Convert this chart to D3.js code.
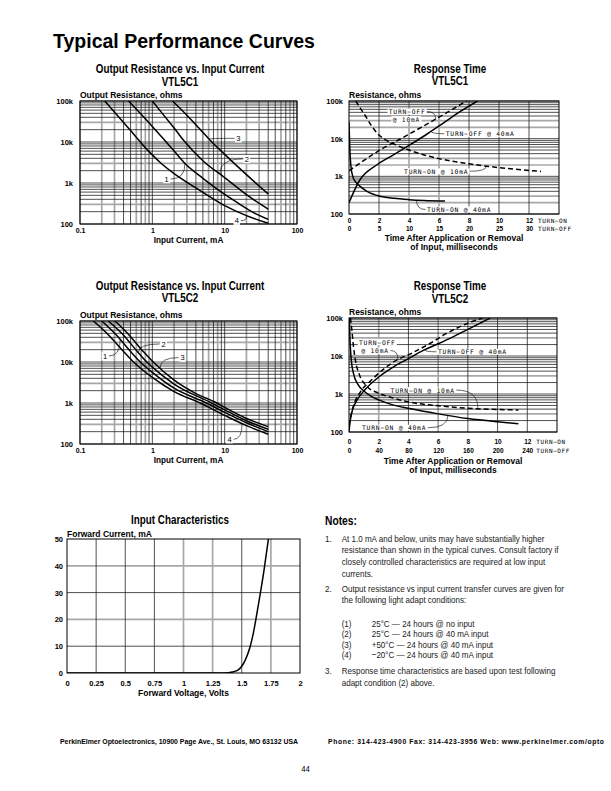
<!DOCTYPE html>
<html>
<head>
<meta charset="utf-8">
<title>Typical Performance Curves</title>
<script src="https://d3js.org/d3.v7.min.js"></script>
<style>
  html, body { margin: 0; padding: 0; background: #fff; }
  svg { display: block; }
</style>
</head>
<body>
<script>
/* ---------- data ---------- */
var pageTitle = 'Typical Performance Curves';

var currentTicks = [0.1, 1, 10, 100];
var currentTickLabels = ['0.1', '1', '10', '100'];
var ohmTicks = [100, 1000, 10000, 100000];
var ohmTickLabels = ['100', '1k', '10k', '100k'];

// VTL5C1 output resistance vs input current  [mA, ohms]
var c1Curve1 = [[0.47,100000],[1,24000],[1.42,12000],[2,6000],[2.83,3000],[5,1300],[7.8,720],[15,330],[25,190],[40,130]];
var c1Curve2 = [[1,100000],[1.5,41000],[2,22000],[2.7,11000],[5,3500],[10,1350],[20,520],[40,230]];
var c1Curve3 = [[1.9,100000],[3,45000],[4.5,21000],[6.3,11000],[10,5000],[20,1600],[40,540]];
var c1Curve4 = [[0.22,100000],[0.5,19000],[0.93,5500],[1.33,3000],[2,1700],[4,760],[10,280],[20,160],[40,104]];

// VTL5C2 output resistance vs input current  [mA, ohms]
var c2Curve1 = [[0.2,100000],[0.32,45000],[0.5,18000],[0.68,10000],[1,5600],[2,2300],[5.6,1000],[10,590],[20,330],[40,200]];
var c2Curve2 = [[0.246,100000],[0.4,45000],[0.62,18000],[0.84,10000],[1,7500],[2,2900],[6.6,1000],[10,680],[20,370],[40,228]];
var c2Curve3 = [[0.305,100000],[0.48,45000],[0.75,18000],[1.03,10000],[2,3600],[4,1700],[7.8,1000],[10,780],[20,420],[40,265]];
var c2Curve4 = [[0.153,100000],[0.25,45000],[0.4,18000],[0.55,10000],[1,4200],[2,1900],[4.6,1000],[10,500],[20,280],[40,173]];

// VTL5C1 response time  turn-on [ms, ohms], turn-off [ms, ohms]
var rt1OnTicks = [0, 2, 4, 6, 8, 10, 12];
var rt1OffTicks = [0, 5, 10, 15, 20, 25, 30];
var rt1TurnOn40 = [[0,28000],[0.05,6000],[0.12,2000],[0.25,1000],[0.45,700],[0.7,560],[1.2,400],[2,300],[3,260],[4,240],[5,228],[6.4,220]];
var rt1TurnOn10 = [[0.45,100000],[0.75,65000],[1.1,40000],[1.5,22000],[2,12500],[2.5,9000],[3,7200],[4,5000],[5,3700],[6,2950],[8,2150],[10,1700],[12.8,1350]];
var rt1TurnOff40 = [[0,200],[1.8,800],[4.6,2000],[7.4,3700],[10,6600],[12.9,12900],[15.7,25700],[18.5,52000],[21.4,100000]];
var rt1TurnOff10 = [[0,1400],[4.8,4600],[9.8,12600],[14.7,35000],[19.6,100000]];

// VTL5C2 response time
var rt2OnTicks = [0, 2, 4, 6, 8, 10, 12];
var rt2OffTicks = [0, 40, 80, 120, 160, 200, 240];
var rt2TurnOn40 = [[0.02,100000],[0.05,40000],[0.1,15000],[0.15,8000],[0.3,3500],[0.6,1800],[1,1200],[1.5,870],[2,700],[3,510],[4,420],[6,300],[8,225],[10,185],[11.4,165]];
var rt2TurnOn10 = [[0.1,100000],[0.2,45000],[0.3,18000],[0.45,7000],[0.7,3200],[1.2,1600],[2,1050],[3,780],[4,620],[6,490],[8,420],[10,390],[11.4,380]];
var rt2TurnOff40 = [[0,100],[2,220],[5,400],[10,650],[20,1200],[40,2800],[60,5200],[80,8500],[100,14000],[120,21000],[140,32000],[160,50000],[190,100000]];
var rt2TurnOff10 = [[0,150],[5,420],[15,1100],[30,2300],[60,7000],[85,12000],[110,22000],[130,38000],[150,60000],[180,100000]];

// input characteristics [V, mA]
var ivVoltTicks = [0, 0.25, 0.5, 0.75, 1, 1.25, 1.5, 1.75, 2];
var ivVoltLabels = ['0', '0.25', '0.5', '0.75', '1', '1.25', '1.5', '1.75', '2'];
var ivCurrTicks = [0, 10, 20, 30, 40, 50];
var ivCurve = [[0,0],[0.5,0],[1,0],[1.35,0],[1.42,0.4],[1.47,1.2],[1.5,2.5],[1.53,4.8],[1.57,9.5],[1.6,15],[1.643,25.5],[1.69,38],[1.729,50]];

// notes
var note1 = ['At 1.0 mA and below, units may have substantially higher',
  'resistance than shown in the typical curves. Consult factory if',
  'closely controlled characteristics are required at low input',
  'currents.'];
var note2 = ['Output resistance vs input current transfer curves are given for',
  'the following light adapt conditions:'];
var adaptKeys = ['(1)', '(2)', '(3)', '(4)'];
var adaptConds = ['25°C — 24 hours @  no input', '25°C — 24 hours @  40 mA input',
  '+50°C — 24 hours @  40 mA input', '−20°C — 24 hours @ 40 mA input'];
var note3 = ['Response time characteristics are based upon test following',
  'adapt condition (2) above.'];
var footerLeft = 'PerkinElmer Optoelectronics, 10900 Page Ave., St. Louis, MO 63132 USA';
var footerRight = 'Phone: 314-423-4900 Fax: 314-423-3956 Web: www.perkinelmer.com/opto';
var pageNumber = '44';

/* ---------- drawing ---------- */
(function() {
  var SANS = '"Liberation Sans", Arial, Helvetica, sans-serif';
  var NARROW = 'narrow';   // Liberation Sans squeezed horizontally
  var MONO = '"DejaVu Sans Mono", "Liberation Mono", monospace';
  var GRAY = '#a8a8a8';

  var svg = d3.select('body').append('svg')
    .attr('width', 611).attr('height', 791)
    .attr('viewBox', [0, 0, 611, 791]);
  svg.append('rect').attr('width', 611).attr('height', 791).attr('fill', '#fff');
  var defs = svg.append('defs');

  function txt(g, x, y, s, font, size, weight, anchor) {
    var t = g.append('text').text(s)
      .attr('font-size', size)
      .attr('font-weight', weight || 'normal')
      .attr('text-anchor', anchor || 'start').attr('fill', '#000');
    if (font === NARROW) {
      t.attr('font-family', SANS)
        .attr('transform', 'translate(' + x + ',' + y + ') scale(0.82,1)');
    } else {
      t.attr('font-family', font).attr('x', x).attr('y', y);
    }
    return t;
  }

  function whiteBox(g, t, pad) {
    var b = t.node().getBBox();
    g.insert('rect', function() { return t.node(); })
      .attr('x', b.x - pad).attr('y', b.y + 0.5).attr('width', b.width + 2 * pad)
      .attr('height', b.height - 1).attr('fill', '#fff');
    return b;
  }

  function mant(v) {
    return Math.round(v / Math.pow(10, Math.floor(Math.log10(v) + 1e-9)));
  }

  // log-y interpolation along a series, x either log or linear
  function yOnCurve(series, xv, logX) {
    var f = logX ? Math.log10 : function(v) { return v; };
    var i = 1;
    while (i < series.length - 1 && series[i][0] < xv) i++;
    var a = series[i - 1], b = series[i];
    var t = (f(xv) - f(a[0])) / (f(b[0]) - f(a[0]));
    return Math.pow(10, Math.log10(a[1]) + t * (Math.log10(b[1]) - Math.log10(a[1])));
  }

  function drawGrid(g, specs) {
    specs.filter(function(s) { return s.gray; })
      .concat(specs.filter(function(s) { return !s.gray; }))
      .forEach(function(s) {
        g.append('line').attr('x1', s.x1).attr('y1', s.y1).attr('x2', s.x2).attr('y2', s.y2)
          .attr('stroke', s.gray ? GRAY : '#161616')
          .attr('stroke-width', s.gray ? 1.7 : 0.75);
      });
  }

  function styleAxis(sel, size) {
    sel.select('.domain').remove();
    sel.selectAll('.tick line').remove();
    sel.attr('font-family', SANS).attr('font-size', size).attr('font-weight', 'bold');
    sel.selectAll('text').attr('fill', '#000');
  }

  function clip(id, w, h) {
    defs.append('clipPath').attr('id', id).append('rect').attr('width', w).attr('height', h);
    return 'url(#' + id + ')';
  }

  function chartTitle(cx, y, l1, l2) {
    txt(svg, cx, y, l1, NARROW, 12, 'bold', 'middle');
    if (l2) txt(svg, cx, y + 12.8, l2, NARROW, 12, 'bold', 'middle');
  }

  function leader(g, sx, sy, ex, ey) {
    g.append('path')
      .attr('d', 'M' + sx + ',' + sy + 'Q' + ex + ',' + sy + ' ' + ex + ',' + ey)
      .attr('fill', 'none').attr('stroke', '#000').attr('stroke-width', 0.6);
  }

  /* Output resistance vs input current */
  function resistanceChart(o) {
    var g = svg.append('g').attr('transform', 'translate(' + o.left + ',' + o.top + ')');
    var x = d3.scaleLog().domain(d3.extent(currentTicks)).range([0, o.w]);
    var y = d3.scaleLog().domain(d3.extent(ohmTicks)).range([o.h, 0]);

    var specs = [];
    x.ticks().forEach(function(v) {
      specs.push({ x1: x(v), x2: x(v), y1: 0, y2: o.h, gray: o.vGray.indexOf(mant(v)) >= 0 });
    });
    y.ticks().forEach(function(v) {
      specs.push({ x1: 0, x2: o.w, y1: y(v), y2: y(v), gray: o.hGray.indexOf(mant(v)) >= 0 });
    });
    drawGrid(g.append('g'), specs);

    var line = d3.line().x(function(d) { return x(d[0]); }).y(function(d) { return y(d[1]); })
      .curve(d3.curveMonotoneX);
    var cg = g.append('g').attr('clip-path', clip(o.id, o.w, o.h));
    o.curves.forEach(function(c) {
      cg.append('path').datum(c).attr('d', line)
        .attr('fill', 'none').attr('stroke', '#000').attr('stroke-width', 1.5);
    });

    g.append('rect').attr('width', o.w).attr('height', o.h)
      .attr('fill', 'none').attr('stroke', '#000').attr('stroke-width', 1);

    var ya = g.append('g').call(d3.axisLeft(y).tickValues(ohmTicks).tickSize(0).tickPadding(7)
      .tickFormat(function(d, i) { return ohmTickLabels[i]; }));
    styleAxis(ya, 7.5);
    var xa = g.append('g').attr('transform', 'translate(0,' + o.h + ')')
      .call(d3.axisBottom(x).tickValues(currentTicks).tickSize(0).tickPadding(4.5)
        .tickFormat(function(d, i) { return currentTickLabels[i]; }));
    styleAxis(xa, 7);

    txt(g, 0, -3, 'Output Resistance, ohms', SANS, 8.5, 'bold');
    txt(g, o.w / 2, o.h + 18.8, 'Input Current, mA', SANS, 8.2, 'bold', 'middle');

    o.marks.forEach(function(mk) {
      var tx = x(mk.at[0]), ty = y(mk.at[1]);
      var ex = x(mk.to), ey = y(yOnCurve(o.curves[mk.curve], mk.to, true));
      leader(g, tx + (ex > tx ? 4 : -4), ty, ex, ey);
      var t = txt(g, tx, ty, mk.n, SANS, 7.5, 'normal', 'middle').attr('dy', '0.35em');
      whiteBox(g, t, 1.2);
    });
  }

  /* Response time */
  function responseChart(o) {
    var g = svg.append('g').attr('transform', 'translate(' + o.left + ',' + o.top + ')');
    var xOn = d3.scaleLinear().domain([0, o.onMax]).range([0, o.w]);
    var xOff = d3.scaleLinear().domain([0, o.offMax]).range([0, o.w]);
    var y = d3.scaleLog().domain(d3.extent(ohmTicks)).range([o.h, 0]);

    var specs = [];
    o.onTicks.slice(1).forEach(function(v) {
      specs.push({ x1: xOn(v), x2: xOn(v), y1: 0, y2: o.h, gray: o.vGray.indexOf(v) >= 0 });
    });
    y.ticks().forEach(function(v) {
      specs.push({ x1: 0, x2: o.w, y1: y(v), y2: y(v), gray: o.hGray.indexOf(mant(v)) >= 0 });
    });
    drawGrid(g.append('g'), specs);

    var cg = g.append('g').attr('clip-path', clip(o.id, o.w, o.h));
    o.series.forEach(function(s) {
      var xs = s.off ? xOff : xOn;
      var line = d3.line().x(function(d) { return xs(d[0]); }).y(function(d) { return y(d[1]); })
        .curve(d3.curveMonotoneX);
      cg.append('path').datum(s.data).attr('d', line)
        .attr('fill', 'none').attr('stroke', '#000').attr('stroke-width', 1.5)
        .attr('stroke-dasharray', s.dashed ? '5,3' : null);
    });

    g.append('rect').attr('width', o.w).attr('height', o.h)
      .attr('fill', 'none').attr('stroke', '#000').attr('stroke-width', 1);

    var ya = g.append('g').call(d3.axisLeft(y).tickValues(ohmTicks).tickSize(0).tickPadding(6)
      .tickFormat(function(d, i) { return ohmTickLabels[i]; }));
    styleAxis(ya, 7.5);
    var xa1 = g.append('g').attr('transform', 'translate(0,' + o.h + ')')
      .call(d3.axisBottom(xOn).tickValues(o.onTicks).tickSize(0).tickPadding(o.row1)
        .tickFormat(d3.format('d')));
    styleAxis(xa1, 6.5);
    var xa2 = g.append('g').attr('transform', 'translate(0,' + o.h + ')')
      .call(d3.axisBottom(xOff).tickValues(o.offTicks).tickSize(0).tickPadding(o.row2)
        .tickFormat(d3.format('d')));
    styleAxis(xa2, 6.5);
    var lastOn = o.onTicks[o.onTicks.length - 1];
    txt(g, xOn(lastOn) + 9, o.h + o.row1 + 4.6, 'TURN−ON', MONO, 6).attr('letter-spacing', 0.6);
    txt(g, xOn(lastOn) + 9, o.h + o.row2 + 4.6, 'TURN−OFF', MONO, 6).attr('letter-spacing', 0.6);

    txt(g, 0, -3, 'Resistance, ohms', SANS, 8.5, 'bold');
    txt(g, o.w / 2, o.h + o.title1, 'Time After Application or Removal', SANS, 8.5, 'bold', 'middle');
    txt(g, o.w / 2, o.h + o.title1 + 9.4, 'of Input, milliseconds', SANS, 8.5, 'bold', 'middle');

    o.notes.forEach(function(nt) {
      var t = txt(g, xOn(nt.at[0]), y(nt.at[1]), nt.s, MONO, 6.3).attr('letter-spacing', 0.8);
      var b = whiteBox(g, t, 1.2);
      if (nt.series === undefined) return;
      var s = o.series[nt.series];
      var xs = s.off ? xOff : xOn;
      var ex = xs(nt.to), ey = y(yOnCurve(s.data, nt.to, false));
      var sy = b.y + b.height / 2;
      var sx = nt.side === 'right' ? b.x + b.width + 1.5 : b.x - 1.5;
      leader(g, sx, sy, ex, ey);
    });
  }

  /* Input characteristics */
  function ivChart(o) {
    var g = svg.append('g').attr('transform', 'translate(' + o.left + ',' + o.top + ')');
    var x = d3.scaleLinear().domain(d3.extent(ivVoltTicks)).range([0, o.w]);
    var y = d3.scaleLinear().domain(d3.extent(ivCurrTicks)).range([o.h, 0]);

    var specs = [];
    ivVoltTicks.slice(1, -1).forEach(function(v) {
      specs.push({ x1: x(v), x2: x(v), y1: 0, y2: o.h, gray: o.vGray.indexOf(v) >= 0 });
    });
    ivCurrTicks.slice(1, -1).forEach(function(v) {
      specs.push({ x1: 0, x2: o.w, y1: y(v), y2: y(v), gray: o.hGray.indexOf(v) >= 0 });
    });
    drawGrid(g.append('g'), specs);

    var line = d3.line().x(function(d) { return x(d[0]); }).y(function(d) { return y(d[1]); })
      .curve(d3.curveMonotoneX);
    g.append('g').attr('clip-path', clip(o.id, o.w, o.h))
      .append('path').datum(ivCurve).attr('d', line)
      .attr('fill', 'none').attr('stroke', '#000').attr('stroke-width', 1.5);

    g.append('rect').attr('width', o.w).attr('height', o.h)
      .attr('fill', 'none').attr('stroke', '#000').attr('stroke-width', 1);

    var ya = g.append('g').call(d3.axisLeft(y).tickValues(ivCurrTicks).tickSize(0).tickPadding(4)
      .tickFormat(d3.format('d')));
    styleAxis(ya, 7.5);
    var xa = g.append('g').attr('transform', 'translate(0,' + o.h + ')')
      .call(d3.axisBottom(x).tickValues(ivVoltTicks).tickSize(0).tickPadding(7.5)
        .tickFormat(function(d, i) { return ivVoltLabels[i]; }));
    styleAxis(xa, 7.5);

    txt(g, 0, -2, 'Forward Current, mA', SANS, 8.5, 'bold');
    txt(g, o.w / 2, o.h + 23, 'Forward Voltage, Volts', SANS, 8.5, 'bold', 'middle');
  }

  /* page title */
  txt(svg, 53, 48, pageTitle, SANS, 19.5, 'bold');

  chartTitle(180, 73, 'Output Resistance vs. Input Current', 'VTL5C1');
  resistanceChart({
    id: 'clip-c1', left: 80, top: 101, w: 217, h: 123,
    vGray: [2, 3, 6, 8], hGray: [3],
    curves: [c1Curve1, c1Curve2, c1Curve3, c1Curve4],
    marks: [
      { n: '1', at: [1.58, 1250], curve: 0, to: 2.83 },
      { n: '2', at: [20.2, 3850], curve: 1, to: 8.6 },
      { n: '3', at: [15.5, 12300], curve: 2, to: 6.1 },
      { n: '4', at: [14.7, 120], curve: 3, to: 20.2 }
    ]
  });

  chartTitle(180, 289.5, 'Output Resistance vs. Input Current', 'VTL5C2');
  resistanceChart({
    id: 'clip-c2', left: 80, top: 321, w: 217, h: 123,
    vGray: [2, 3, 6, 8], hGray: [3],
    curves: [c2Curve1, c2Curve2, c2Curve3, c2Curve4],
    marks: [
      { n: '1', at: [0.222, 14000], curve: 0, to: 0.36 },
      { n: '2', at: [1.43, 27500], curve: 1, to: 0.64 },
      { n: '3', at: [2.61, 12800], curve: 2, to: 1.28 },
      { n: '4', at: [11.7, 130], curve: 3, to: 17.4 }
    ]
  });

  chartTitle(450, 72.5, 'Response Time', 'VTL5C1');
  responseChart({
    id: 'clip-r1', left: 349, top: 101, w: 210, h: 113,
    onMax: 14, offMax: 35, onTicks: rt1OnTicks, offTicks: rt1OffTicks,
    vGray: [4, 6], hGray: [2, 3],
    row1: 4.7, row2: 12.1, title1: 27,
    series: [
      { data: rt1TurnOn40, off: false, dashed: false },
      { data: rt1TurnOn10, off: false, dashed: true },
      { data: rt1TurnOff40, off: true, dashed: false },
      { data: rt1TurnOff10, off: true, dashed: true }
    ],
    notes: [
      { s: 'TURN−OFF', at: [2.65, 45000], series: 3, to: 14.45, side: 'right' },
      { s: '@ 10mA', at: [2.91, 28500] },
      { s: 'TURN−OFF @ 40mA', at: [6.45, 11600], series: 2, to: 13.7, side: 'left' },
      { s: 'TURN−ON @ 10mA', at: [3.67, 1170], series: 1, to: 9.16, side: 'right' },
      { s: 'TURN−ON @ 40mA', at: [5.2, 113], series: 0, to: 4.5, side: 'left' }
    ]
  });

  chartTitle(450, 290, 'Response Time', 'VTL5C2');
  responseChart({
    id: 'clip-r2', left: 349, top: 318, w: 208, h: 114,
    onMax: 14, offMax: 280, onTicks: rt2OnTicks, offTicks: rt2OffTicks,
    vGray: [2, 6], hGray: [3],
    row1: 7.4, row2: 16.4, title1: 31.5,
    series: [
      { data: rt2TurnOn40, off: false, dashed: false },
      { data: rt2TurnOn10, off: false, dashed: true },
      { data: rt2TurnOff40, off: true, dashed: false },
      { data: rt2TurnOff10, off: true, dashed: true }
    ],
    notes: [
      { s: 'TURN−OFF', at: [0.67, 20000] },
      { s: '@ 10mA', at: [0.83, 12000], series: 3, to: 66, side: 'right' },
      { s: 'TURN−OFF @ 40mA', at: [5.99, 11100], series: 2, to: 102, side: 'left' },
      { s: 'TURN−ON @ 10mA', at: [2.8, 1090], series: 1, to: 8.68, side: 'right' },
      { s: 'TURN−ON @ 40mA', at: [0.875, 111], series: 0, to: 6.66, side: 'right' }
    ]
  });

  txt(svg, 180, 523.5, 'Input Characteristics', NARROW, 12, 'bold', 'middle');
  ivChart({ id: 'clip-iv', left: 67, top: 539, w: 233, h: 134, vGray: [1, 1.25, 1.75], hGray: [20, 40] });

  /* notes */
  var ng = svg.append('g');
  txt(ng, 325, 525, 'Notes:', NARROW, 12.5, 'bold');
  function line(x, y, s) { txt(ng, x, y, s, NARROW, 9.8).attr('fill', '#1a1a1a'); }
  function para(num, lines, y0) {
    line(325, y0, num);
    lines.forEach(function(l, i) { line(341.7, y0 + i * 11.7, l); });
  }
  para('1.', note1, 541.6);
  para('2.', note2, 591.5);
  adaptKeys.forEach(function(k, i) {
    line(341.7, 626.5 + i * 10.6, k);
    line(371.7, 626.5 + i * 10.6, adaptConds[i]);
  });
  para('3.', note3, 674.2);

  /* footer */
  txt(svg, 60, 743.5, footerLeft, SANS, 6.8, 'bold')
    .attr('textLength', 238).attr('lengthAdjust', 'spacingAndGlyphs');
  txt(svg, 328, 743.5, footerRight, SANS, 6.8, 'bold')
    .attr('textLength', 276).attr('lengthAdjust', 'spacing');
  txt(svg, 305.5, 771.5, pageNumber, NARROW, 9.5, 'normal', 'middle');
})();
</script>
</body>
</html>
